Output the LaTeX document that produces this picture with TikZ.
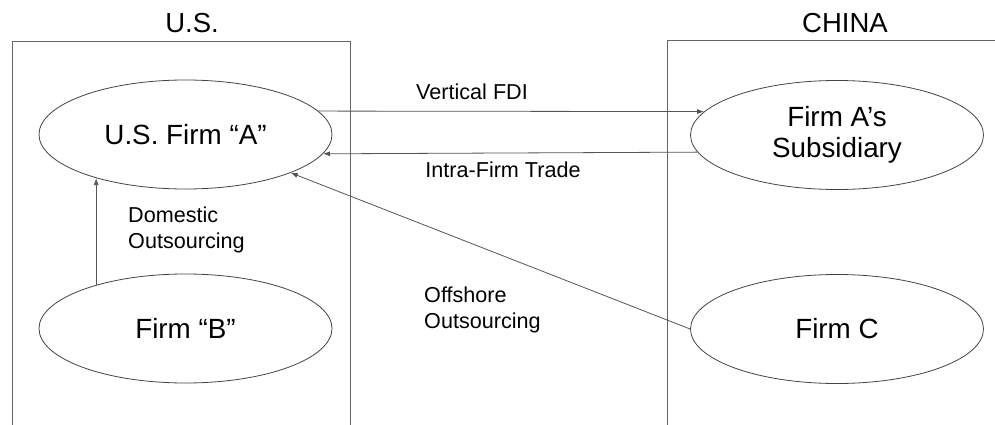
\documentclass[tikz,border=0pt]{standalone}
\usepackage{fontspec}
\setmainfont{Liberation Sans}
\usetikzlibrary{shapes.geometric,arrows.meta}
\definecolor{edgegray}{HTML}{666666}
\definecolor{linegray}{HTML}{555555}
\definecolor{ovalgray}{HTML}{444444}
\tikzset{
  firm/.style={ellipse,draw=ovalgray,line width=0.8pt,inner sep=0pt,minimum width=293pt,minimum height=109pt,align=center,font=\fontsize{27.8}{31}\selectfont},
  region/.style={draw=edgegray,line width=0.9pt},
  title/.style={font=\fontsize{27.5}{31}\selectfont},
  lbl/.style={font=\fontsize{21.6}{25.5}\selectfont,align=left,inner sep=0pt},
  arr/.style={draw=linegray,line width=0.8pt,-{Latex[length=7pt,width=5pt]}}
}
\begin{document}
\begin{tikzpicture}[x=1pt,y=-1pt]
\useasboundingbox[fill=white] (0,0) rectangle (995,425);
% region boxes
\draw[region] (12,426) -- (12,41) -- (350,41) -- (350,426);
\draw[region] (667,426) -- (667,40) -- (996,40);
\node[title] (us) at (192,23) {U.S.};
\node[title] (cn) at (845,23) {CHINA};
% firms
\node[firm] (A) at (185.5,134.5) {U.S. Firm “A”};
\node[firm] (S) at (837,135) {Firm A’s\\Subsidiary};
\node[firm] (B) at (185.5,328.5) {Firm “B”};
\node[firm] (C) at (837,329) {Firm C};
% connectors
\draw[arr] (A.10) -- (S.170);
\draw[arr] (S.187.4) -- (A.352.4);
\draw[arr] (B.154) -- (A.206);
\draw[arr] (C.west) -- (A.340);
% labels
\node[lbl] (l1) at (472,92) {Vertical FDI};
\node[lbl] (l2) at (503,170) {Intra-Firm Trade};
\node[lbl,anchor=west] (l3) at (128,230) {Domestic\\Outsourcing};
\node[lbl,anchor=west] (l4) at (424,310) {Offshore\\Outsourcing};
\end{tikzpicture}
\end{document}
